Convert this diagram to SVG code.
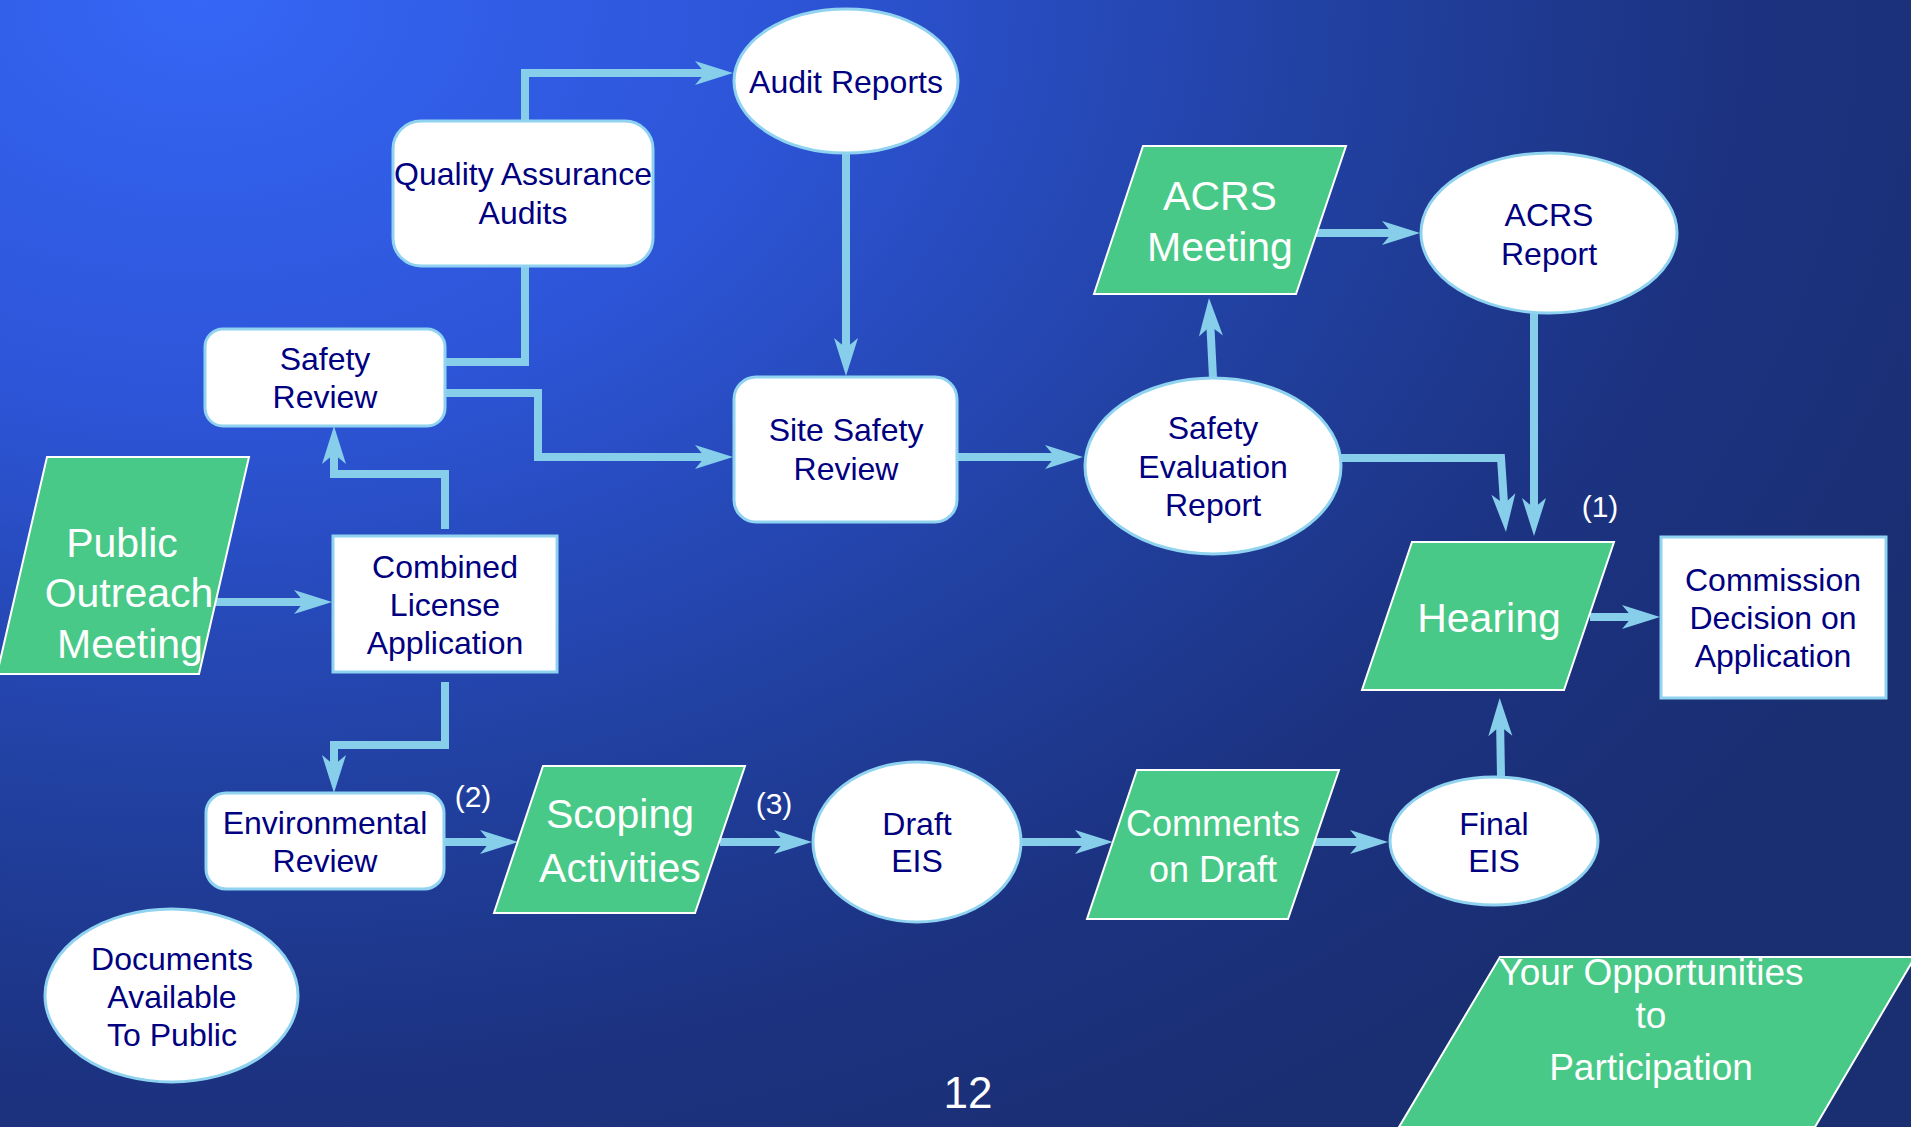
<svg xmlns="http://www.w3.org/2000/svg" width="1911" height="1127" viewBox="0 0 1911 1127">
<defs>
<radialGradient id="bg" gradientUnits="userSpaceOnUse" cx="200" cy="0" r="1900" gradientTransform="scale(1 0.7)">
<stop offset="0" stop-color="#3566F5"/>
<stop offset="0.3" stop-color="#2D55D8"/>
<stop offset="0.6" stop-color="#2140A0"/>
<stop offset="0.8" stop-color="#1C3382"/>
<stop offset="1" stop-color="#1A2E72"/>
</radialGradient>
<marker id="ah" markerUnits="userSpaceOnUse" viewBox="-20 -13 42 26" refX="0" refY="0" markerWidth="42" markerHeight="26" orient="auto">
<path d="M20,0 L-18,-12 L-8,0 L-18,12 Z" fill="#87CEEB"/>
</marker>
</defs>
<style>
.box{fill:#ffffff;stroke:#8FD3F0;stroke-width:3}
.green{fill:#48C987;stroke:#ffffff;stroke-width:2}
.dk{font-family:"Liberation Sans",Arial,sans-serif;font-size:32px;fill:#000080;text-anchor:middle}
.wt{font-family:"Liberation Sans",Arial,sans-serif;font-size:41px;fill:#ffffff;text-anchor:middle}
.lb{font-family:"Liberation Sans",Arial,sans-serif;font-size:30px;fill:#ffffff;text-anchor:middle}
.conn path{fill:none;stroke:#87CEEB;stroke-width:8;stroke-linejoin:miter}
.conn path.a{marker-end:url(#ah)}
</style>
<rect x="0" y="0" width="1911" height="1127" fill="url(#bg)"/>

<g id="connectors" class="conn">
<path class="a" d="M525,121 V73 H713"/>
<path d="M445,362 H525 V266"/>
<path class="a" d="M445,393 H538 V457 H713"/>
<path class="a" d="M846,153 V356"/>
<path class="a" d="M957,457 H1063"/>
<path class="a" d="M1213,378 L1210,318"/>
<path class="a" d="M1316,233 H1400"/>
<path class="a" d="M1341,458 H1501 L1504.6,512"/>
<path class="a" d="M1534,313 V516"/>
<path class="a" d="M1590,617 H1640"/>
<path class="a" d="M1501,777 L1500,718"/>
<path class="a" d="M215,602 H312"/>
<path class="a" d="M445,529 V474 H334 V446"/>
<path class="a" d="M445,682 V745 H334 V773"/>
<path class="a" d="M444,842 H498"/>
<path class="a" d="M720,842 H792"/>
<path class="a" d="M1020,842 H1093"/>
<path class="a" d="M1314,842 H1368"/>
</g>

<g id="audit-reports">
<ellipse class="box" cx="846" cy="81" rx="112" ry="72"/>
<text class="dk" x="846" y="93">Audit Reports</text>
</g>

<g id="qa-audits">
<rect class="box" x="393" y="121" width="260" height="145" rx="28"/>
<text class="dk" x="523" y="185">Quality Assurance</text>
<text class="dk" x="523" y="224">Audits</text>
</g>

<g id="safety-review">
<rect class="box" x="205" y="329" width="240" height="97" rx="18"/>
<text class="dk" x="325" y="370">Safety</text>
<text class="dk" x="325" y="408">Review</text>
</g>

<g id="site-safety-review">
<rect class="box" x="734" y="377" width="223" height="145" rx="22"/>
<text class="dk" x="846" y="441">Site Safety</text>
<text class="dk" x="846" y="480">Review</text>
</g>

<g id="ser">
<ellipse class="box" cx="1213" cy="466" rx="128" ry="88"/>
<text class="dk" x="1213" y="439">Safety</text>
<text class="dk" x="1213" y="478">Evaluation</text>
<text class="dk" x="1213" y="516">Report</text>
</g>

<g id="acrs-meeting">
<polygon class="green" points="1143,146 1346,146 1296,294 1094,294"/>
<text class="wt" x="1220" y="210">ACRS</text>
<text class="wt" x="1220" y="261">Meeting</text>
</g>

<g id="acrs-report">
<ellipse class="box" cx="1549" cy="233" rx="128" ry="80"/>
<text class="dk" x="1549" y="226">ACRS</text>
<text class="dk" x="1549" y="265">Report</text>
</g>

<g id="hearing">
<polygon class="green" points="1412,542 1614,542 1564,690 1362,690"/>
<text class="wt" x="1489" y="632">Hearing</text>
</g>

<g id="commission">
<rect class="box" x="1661" y="537" width="225" height="161"/>
<text class="dk" x="1773" y="591">Commission</text>
<text class="dk" x="1773" y="629">Decision on</text>
<text class="dk" x="1773" y="667">Application</text>
</g>

<g id="public-outreach">
<polygon class="green" points="47,457 249,457 199,674 -3,674"/>
<text class="wt" x="122" y="557">Public</text>
<text class="wt" x="129" y="607">Outreach</text>
<text class="wt" x="130" y="658">Meeting</text>
</g>

<g id="cla">
<rect class="box" x="333" y="536" width="224" height="136"/>
<text class="dk" x="445" y="578">Combined</text>
<text class="dk" x="445" y="616">License</text>
<text class="dk" x="445" y="654">Application</text>
</g>

<g id="env-review">
<rect class="box" x="206" y="793" width="238" height="96" rx="20"/>
<text class="dk" x="325" y="834">Environmental</text>
<text class="dk" x="325" y="872">Review</text>
</g>

<g id="scoping">
<polygon class="green" points="543,766 745,766 695,913 494,913"/>
<text class="wt" x="620" y="828">Scoping</text>
<text class="wt" x="620" y="882">Activities</text>
</g>

<g id="draft-eis">
<ellipse class="box" cx="917" cy="842" rx="104" ry="80"/>
<text class="dk" x="917" y="835">Draft</text>
<text class="dk" x="917" y="872">EIS</text>
</g>

<g id="comments">
<polygon class="green" points="1137,770 1339,770 1288,919 1087,919"/>
<text class="wt" x="1213" y="836" style="font-size:36px">Comments</text>
<text class="wt" x="1213" y="882" style="font-size:36px">on Draft</text>
</g>

<g id="final-eis">
<ellipse class="box" cx="1494" cy="841" rx="104" ry="64"/>
<text class="dk" x="1494" y="835">Final</text>
<text class="dk" x="1494" y="872">EIS</text>
</g>

<g id="documents">
<ellipse class="box" cx="171.5" cy="995.5" rx="126.5" ry="86.5"/>
<text class="dk" x="172" y="970">Documents</text>
<text class="dk" x="172" y="1008">Available</text>
<text class="dk" x="172" y="1046">To Public</text>
</g>

<g id="legend">
<polygon class="green" points="1500,957 1915,957 1815,1127 1399,1127"/>
<text class="wt" x="1651" y="985" style="font-size:37px">Your Opportunities</text>
<text class="wt" x="1651" y="1028" style="font-size:37px">to</text>
<text class="wt" x="1651" y="1080" style="font-size:37px">Participation</text>
</g>

<g id="labels">
<text class="lb" x="1600" y="517">(1)</text>
<text class="lb" x="473" y="807">(2)</text>
<text class="lb" x="774" y="814">(3)</text>
<text class="lb" x="968" y="1108" style="font-size:44px">12</text>
</g>
</svg>
